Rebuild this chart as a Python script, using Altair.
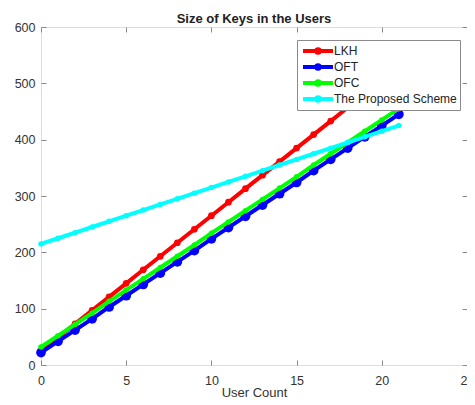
import altair as alt
import pandas as pd

users = list(range(22))
lkh = [25, 49, 73, 97, 121, 145, 169, 193, 217, 241, 265, 289, 313, 337, 361, 385, 409, 433, 457, 481, 505, 529]
oft = [22, 42, 62, 82, 103, 123, 143, 163, 183, 203, 224, 244, 264, 284, 304, 324, 345, 365, 385, 405, 425, 445]
ofc = [32, 52, 72, 92, 113, 133, 153, 173, 193, 213, 234, 254, 274, 294, 314, 334, 355, 375, 395, 415, 435, 455]
proposed = [215, 225, 235, 245, 255, 265, 275, 285, 295, 305, 315, 325, 335, 345, 355, 365, 375, 385, 395, 405, 415, 425]

series_names = ["LKH", "OFT", "OFC", "The Proposed Scheme"]
series_values = [lkh, oft, ofc, proposed]
x_ticks = [0, 5, 10, 15, 20, 25]
y_ticks = [0, 100, 200, 300, 400, 500, 600]

colors = ["#ff0000", "#0000ff", "#00ff00", "#00ffff"]
dot_sizes = [45, 95, 30, 30]

rows = []
for name, vals in zip(series_names, series_values):
    for u, v in zip(users, vals):
        rows.append({"users": u, "keys": v, "series": name})
df = pd.DataFrame(rows)

FONT = "Liberation Sans"
GREY = "#8a8a8a"

color_scale = alt.Scale(domain=series_names, range=colors)
x_scale = alt.Scale(domain=[0, 25], nice=False, zero=False)
y_scale = alt.Scale(domain=[0, 600], nice=False)

sym_path = "M-5,0L5,0M-0.6,0A0.6,0.6,0,1,0,0.6,0A0.6,0.6,0,1,0,-0.6,0Z"

legend = alt.Legend(
    title=None, orient="none", legendX=256, legendY=13, direction="vertical",
    symbolType=sym_path, symbolSize=36, symbolStrokeWidth=4,
    symbolOffset=12, labelOffset=10, padding=3, rowPadding=0, clipHeight=16,
    labelFontSize=12, labelFont=FONT, labelColor="#222",
    fillColor="white", strokeColor=GREY, cornerRadius=0,
)

x_bottom = alt.Axis(values=x_ticks, orient="bottom", offset=-5, tickSize=5, domain=False,
                    labelPadding=9, labelFontSize=12.5, labelFont=FONT, labelColor="#333",
                    title="User Count", titleFontSize=13, titleFontWeight="normal",
                    titleFont=FONT, titleColor="#333", titlePadding=0, tickColor=GREY,
                    grid=False, labelFlush=False)
y_left = alt.Axis(values=y_ticks, orient="left", offset=-5, tickSize=5, domain=False,
                  labelPadding=6, labelFontSize=12.5, labelFont=FONT, labelColor="#333",
                  title=None, tickColor=GREY, grid=False, labelFlush=False)
x_top = alt.Axis(values=x_ticks, orient="top", offset=-5, tickSize=5, domain=False,
                 labels=False, title=None, tickColor=GREY, grid=False)
y_right = alt.Axis(values=y_ticks, orient="right", offset=-5, tickSize=5, domain=False,
                   labels=False, title=None, tickColor=GREY, grid=False)

layers = []
for i, name in enumerate(series_names):
    base = alt.Chart(df).transform_filter(alt.datum.series == name)
    line = base.mark_line(strokeWidth=4).encode(
        x=alt.X("users:Q", scale=x_scale, axis=x_bottom),
        y=alt.Y("keys:Q", scale=y_scale, axis=y_left),
        color=alt.Color("series:N", scale=color_scale, legend=legend),
    )
    pts = base.mark_circle(opacity=1, size=dot_sizes[i]).encode(
        x=alt.X("users:Q", scale=x_scale, axis=x_bottom),
        y=alt.Y("keys:Q", scale=y_scale, axis=y_left),
        color=alt.Color("series:N", scale=color_scale, legend=legend),
    )
    layers += [line, pts]

data_layer = alt.layer(*layers)

tick_layer = alt.Chart(df).mark_point(opacity=0).encode(
    x=alt.X("users:Q", scale=x_scale, axis=x_top),
    y=alt.Y("keys:Q", scale=y_scale, axis=y_right),
)

chart = alt.layer(data_layer, tick_layer).properties(
    width=426, height=338,
    title=alt.Title("Size of Keys in the Users", fontSize=13, fontWeight="bold",
                    font=FONT, color="#222", offset=-5),
    autosize=alt.AutoSizeParams(type="none"),
    padding={"left": 33, "top": 19, "right": 0, "bottom": 32},
).configure_view(stroke=GREY, strokeWidth=1).configure(background="white")

chart.save("out.html", embed_options={"renderer": "svg", "actions": False})
